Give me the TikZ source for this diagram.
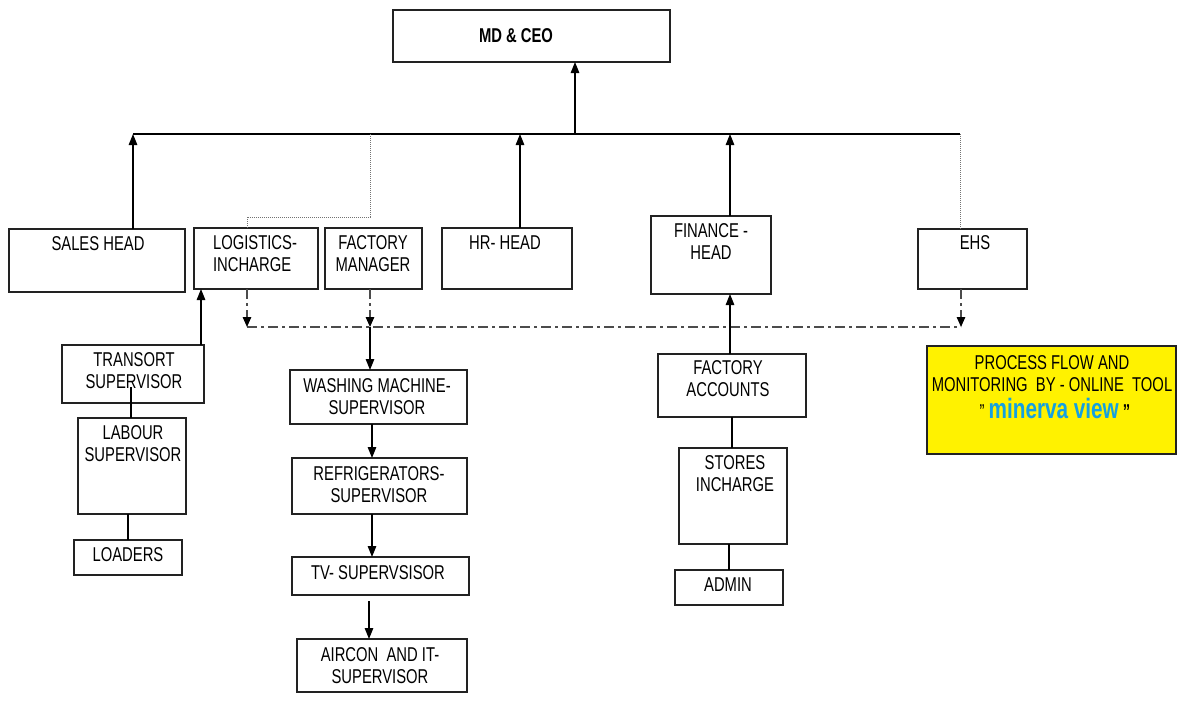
\documentclass[tikz,border=0pt]{standalone}
\usepackage{fontspec}
\setmainfont{Liberation Sans}[FakeStretch=0.74]
\usetikzlibrary{arrows.meta,fit}
\definecolor{minblue}{RGB}{20,160,225}
\definecolor{boxline}{RGB}{34,34,34}
\tikzset{
  box/.style={draw=boxline,line width=1.2pt,inner sep=0pt,outer sep=0pt},
  lbl/.style={inner sep=0pt,align=center,font=\fontsize{20}{22}\selectfont},
  conn/.style={draw=black,line width=1.2pt},
  arr/.style={conn,-{Triangle[length=11pt,width=8.5pt]}},
  dotln/.style={draw=black!55,line width=0.9pt,dash pattern=on 1pt off 1pt},
  dashdot/.style={draw=black!70,line width=1.3pt,dash pattern=on 10pt off 4pt on 3pt off 4pt},
  ddarr/.style={dashdot,-{Triangle[length=10pt,width=8.5pt,color=black,fill=black]}}
}
\begin{document}
\begin{tikzpicture}[x=1pt,y=-1pt]
\useasboundingbox (0,0) rectangle (1177,709);
% boxes
\node[box,fit={(393,10) (670,62)}] (md) {};
\node[box,fit={(9,229) (185,292)}] (sales) {};
\node[box,fit={(194,228) (318,289)}] (log) {};
\node[box,fit={(325,228) (422,289)}] (fm) {};
\node[box,fit={(442,228) (572,289)}] (hr) {};
\node[box,fit={(651,216) (771,294)}] (fin) {};
\node[box,fit={(918,229) (1027,289)}] (ehs) {};
\node[box,fit={(62,345) (204,403)}] (tr) {};
\node[box,fit={(78,418) (186,514)}] (lab) {};
\node[box,fit={(74,540) (182,575)}] (load) {};
\node[box,fit={(290,370) (467,424)}] (wm) {};
\node[box,fit={(292,458) (467,514)}] (ref) {};
\node[box,fit={(292,557) (469,595)}] (tv) {};
\node[box,fit={(297,639) (467,692)}] (air) {};
\node[box,fit={(658,354) (806,417)}] (fa) {};
\node[box,fit={(679,448) (787,544)}] (st) {};
\node[box,fit={(675,570) (783,605)}] (adm) {};
\node[box,fill=yellow,fit={(927,346) (1176,454)}] (yel) {};
% labels
\node[lbl,font=\fontsize{20}{22}\selectfont\bfseries] (tmd) at (516,36) {MD \& CEO};
\node[lbl] (tsales) at (98,244) {SALES HEAD};
\node[lbl,align=left] (tlog) at (255,254) {LOGISTICS-\\INCHARGE};
\node[lbl] (tfm) at (373,254) {FACTORY\\MANAGER};
\node[lbl] (thr) at (505,243) {HR- HEAD};
\node[lbl] (tfin) at (711,242) {FINANCE -\\HEAD};
\node[lbl] (tehs) at (975,243) {EHS};
\node[lbl] (ttr) at (134,371) {TRANSORT\\SUPERVISOR};
\node[lbl] (tlab) at (133,444) {LABOUR\\SUPERVISOR};
\node[lbl] (tload) at (128,555) {LOADERS};
\node[lbl] (twm) at (377,397) {WASHING MACHINE-\\SUPERVISOR};
\node[lbl] (tref) at (379,485) {REFRIGERATORS-\\SUPERVISOR};
\node[lbl] (ttv) at (378,573) {TV- SUPERVSISOR};
\node[lbl] (tair) at (380,666) {AIRCON\ \ AND IT-\\SUPERVISOR};
\node[lbl] (tfa) at (728,379) {FACTORY\\ACCOUNTS};
\node[lbl] (tst) at (735,474) {STORES\\INCHARGE};
\node[lbl] (tadm) at (728,585) {ADMIN};
\node[lbl] (ty1) at (1052,363) {PROCESS FLOW AND};
\node[lbl] (ty2) at (1052,385) {MONITORING\ \ BY - ONLINE\ \ TOOL};
\node[lbl,anchor=base] (ty3) at (1055,418) {" {\bfseries\fontsize{28}{30}\selectfont\color{minblue}minerva view} {\bfseries "}};
% coordinates
\coordinate (bL) at (133,134);
\coordinate (bR) at (960,134);
\coordinate (bMD) at (575,134);
\coordinate (bHR) at (520,134);
\coordinate (bFin) at (730,134);
\coordinate (bFM) at (370,134);
\coordinate (dd1) at (370,217);
\coordinate (dd2) at (247,217);
\coordinate (dL) at (247,327);
\coordinate (dFM) at (370,327);
\coordinate (dR) at (961,327);
\coordinate (tx) at (201,0);
\coordinate (trIn) at (131,387);
\coordinate (cx) at (372,0);
\coordinate (tvgap) at (369,601);
\coordinate (fx) at (730,0);
% top bus
\draw[conn] (bL) -- (bR);
\draw[arr] (bMD) -- (md.south -| bMD);
\draw[arr] (sales.north -| bL) -- (bL);
\draw[arr] (hr.north -| bHR) -- (bHR);
\draw[arr] (fin.north -| bFin) -- (bFin);
\draw[dotln] (bFM) -- (dd1) -- (dd2) -- (log.north -| dd2);
\draw[dotln] (bR) -- (ehs.north -| bR);
% dash-dot line
\draw[dashdot] (dL) -- (dR);
\draw[ddarr] (log.south -| dL) -- (dL);
\draw[ddarr] (fm.south -| dFM) -- (dFM);
\draw[ddarr] (ehs.south -| dR) -- (dR);
% factory chain
\draw[arr] (dFM) -- (wm.north -| dFM);
\draw[arr] (wm.south -| cx) -- (ref.north -| cx);
\draw[arr] (ref.south -| cx) -- (tv.north -| cx);
\draw[arr] (tvgap) -- (air.north -| tvgap);
% logistics chain
\draw[arr] (tr.north -| tx) -- (log.south -| tx);
\draw[conn] (trIn) -- (lab.north -| trIn);
\draw[conn] (load.north |- lab.south) -- (load.north);
% finance chain
\draw[arr] (fa.north -| fx) -- (fin.south -| fx);
\draw[conn] (fa.south) -- (fa.south |- st.north);
\draw[conn] (adm.north |- st.south) -- (adm.north);
\end{tikzpicture}
\end{document}
